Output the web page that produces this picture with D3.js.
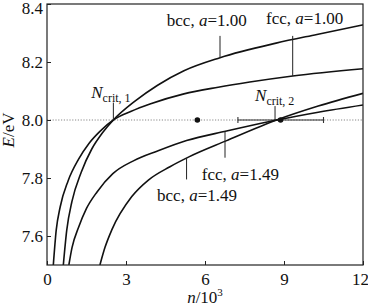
<!DOCTYPE html>
<html><head><meta charset="utf-8">
<script src="https://cdn.jsdelivr.net/npm/d3@7"></script>
<style>body{margin:0;background:#fff}svg{display:block}text{font-family:"Liberation Serif","Times New Roman",serif;fill:#111}</style>
</head><body><svg id="c" width="368" height="306"></svg>
<script>
// ---- data ----
const xTicks = [0, 3, 6, 9, 12];
const yTicks = [7.6, 7.8, 8.0, 8.2, 8.4];
const yTickLabels = ["7.6", "7.8", "8.0", "8.2", "8.4"];
const bcc100 = [[0.62,7.5],[0.75,7.62],[0.95,7.72],[1.3,7.82],[1.7,7.9],[2.1,7.955],[2.52,8.0],[3.34,8.065],[4.2,8.12],[5.2,8.17],[6.57,8.215],[8.7,8.265],[10.25,8.295],[12,8.328]];
const fcc100 = [[0.24,7.5],[0.35,7.62],[0.5,7.70],[0.8,7.79],[1.2,7.865],[1.6,7.92],[2.0,7.96],[2.52,8.0],[3.2,8.03],[3.91,8.055],[5.2,8.09],[6.5,8.113],[7.7,8.131],[9.33,8.152],[12,8.177]];
const fcc149 = [[0.83,7.5],[0.95,7.56],[1.2,7.63],[1.5,7.695],[1.9,7.752],[2.5,7.815],[3.3,7.86],[4.2,7.893],[5.3,7.929],[6.82,7.962],[8.09,7.988],[8.72,8.0],[10.3,8.027],[12,8.052]];
const bcc149 = [[2.01,7.5],[2.2,7.56],[2.46,7.621],[3.22,7.736],[3.85,7.793],[4.67,7.839],[5.37,7.872],[6.8,7.928],[8.72,8.0],[10.3,8.048],[12,8.092]];
const refE = 8.0;
const points = [[5.71, 8.0], [8.87, 8.0]];
const errBar = {n: 8.87, lo: 7.25, hi: 10.5, E: 8.0};
const curveLabels = [
  {t1:"bcc, ", a:"a", t2:"=1.00", n:4.55, E:8.325, ln:6.57, E1:8.29, E2:8.215},
  {t1:"fcc, ", a:"a", t2:"=1.00", n:8.32, E:8.33, ln:9.33, E1:8.29, E2:8.152},
  {t1:"fcc, ", a:"a", t2:"=1.49", n:5.88, E:7.792, ln:6.76, E1:7.87, E2:7.961},
  {t1:"bcc, ", a:"a", t2:"=1.49", n:4.18, E:7.72, ln:5.3, E1:7.795, E2:7.869}
];
const critLabels = [
  {sub:"crit, 1", n:1.68, E:8.077, ln:2.52, E1:8.06, E2:8.0},
  {sub:"crit, 2", n:7.9, E:8.065, ln:8.66, E1:8.048, E2:8.0}
];

// ---- layout ----
const svg = d3.select("#c");
const L = 47, R = 363, T = 4, B = 265;
const x = d3.scaleLinear().domain([0, 12]).range([L, R]);
const y = d3.scaleLinear().domain([7.5, 8.4]).range([B, T]);
const ink = "#111";
const serif = '"Liberation Serif","Times New Roman",serif';

svg.append("defs").append("clipPath").attr("id","clip")
  .append("rect").attr("x",L).attr("y",T).attr("width",R-L).attr("height",B-T);

// reference dotted line
svg.append("line").attr("x1",x(0)).attr("x2",x(12)).attr("y1",y(refE)).attr("y2",y(refE))
  .attr("stroke","#888").attr("stroke-width",1).attr("stroke-dasharray","1.2,1.6");

// error bar
const eb = svg.append("g").attr("stroke","#333").attr("stroke-width",1.1);
eb.append("line").attr("x1",x(errBar.lo)).attr("x2",x(errBar.hi)).attr("y1",y(errBar.E)).attr("y2",y(errBar.E));
[errBar.lo, errBar.hi].forEach(v => eb.append("line").attr("x1",x(v)).attr("x2",x(v)).attr("y1",y(errBar.E)-3).attr("y2",y(errBar.E)+3));

// curves
const line = d3.line().x(d=>x(d[0])).y(d=>y(d[1])).curve(d3.curveMonotoneX);
const gC = svg.append("g").attr("clip-path","url(#clip)");
[bcc100, fcc100, fcc149, bcc149].forEach(s => gC.append("path").attr("d", line(s))
  .attr("fill","none").attr("stroke",ink).attr("stroke-width",1.6));

// points
points.forEach(p => svg.append("circle").attr("cx",x(p[0])).attr("cy",y(p[1])).attr("r",2.8).attr("fill",ink));

// axes frame
svg.append("rect").attr("x",L).attr("y",T).attr("width",R-L).attr("height",B-T)
  .attr("fill","none").attr("stroke","#222").attr("stroke-width",1.2);
const xAxis = d3.axisBottom(x).tickValues(xTicks).tickSize(-4).tickPadding(8).tickFormat(d3.format("d"));
const gx = svg.append("g").attr("transform",`translate(0,${B})`).call(xAxis);
const yAxis = d3.axisLeft(y).tickValues(yTicks).tickSize(-4).tickPadding(4).tickFormat((d,i)=>yTickLabels[i]);
const gy = svg.append("g").attr("transform",`translate(${L},0)`).call(yAxis);
[gx, gy].forEach(g => {
  g.attr("font-family", null).attr("font-size", null);
  g.select(".domain").remove();
  g.selectAll(".tick line").attr("stroke","#222").attr("stroke-width",1);
  g.selectAll(".tick text").attr("font-size",17).style("font-family",serif).attr("fill",ink);
});
gx.selectAll(".tick text").attr("dy","0.71em").attr("dx", d => d === 12 ? -3 : 0);
gy.selectAll(".tick text").attr("dy", d => d === 8.4 ? "0.55em" : "0.32em");

// curve labels
curveLabels.forEach(c => {
  const t = svg.append("text").attr("x",x(c.n)).attr("y",y(c.E)).attr("font-size",17);
  t.append("tspan").text(c.t1);
  t.append("tspan").attr("font-style","italic").text(c.a);
  t.append("tspan").text(c.t2);
  svg.append("line").attr("x1",x(c.ln)).attr("x2",x(c.ln)).attr("y1",y(c.E1)).attr("y2",y(c.E2))
    .attr("stroke","#222").attr("stroke-width",1);
});
critLabels.forEach(c => {
  const t = svg.append("text").attr("x",x(c.n)).attr("y",y(c.E)).attr("font-size",17);
  t.append("tspan").attr("font-style","italic").text("N");
  t.append("tspan").attr("font-size",12).attr("dy",4).text(c.sub);
  svg.append("line").attr("x1",x(c.ln)).attr("x2",x(c.ln)).attr("y1",y(c.E1)).attr("y2",y(c.E2))
    .attr("stroke","#222").attr("stroke-width",1);
});

// axis titles
const yt = svg.append("text").attr("transform","translate(14,130) rotate(-90)")
  .attr("text-anchor","middle").attr("font-size",17);
yt.append("tspan").attr("font-style","italic").text("E");
yt.append("tspan").text("/eV");
const xt = svg.append("text").attr("x",(L+R)/2).attr("y",303).attr("text-anchor","middle").attr("font-size",17);
xt.append("tspan").attr("font-style","italic").text("n");
xt.append("tspan").text("/10");
xt.append("tspan").attr("font-size",11).attr("dy",-7).text("3");
</script></body></html>
